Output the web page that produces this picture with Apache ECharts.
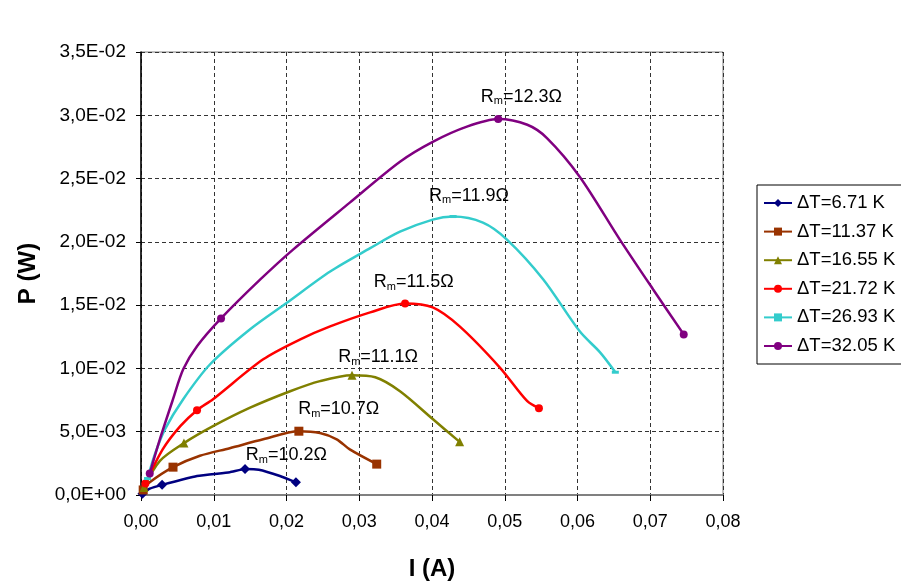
<!DOCTYPE html>
<html>
<head>
<meta charset="utf-8">
<script src="https://cdn.jsdelivr.net/npm/echarts@6/dist/echarts.min.js"></script>
<style>
html,body{margin:0;padding:0;background:#fff;}
#c{width:901px;height:586px;}
</style>
</head>
<body>
<div id="c"></div>
<script>
// ---- Data ----
const seriesNames = ['ΔT=6.71 K', 'ΔT=11.37 K', 'ΔT=16.55 K', 'ΔT=21.72 K', 'ΔT=26.93 K', 'ΔT=32.05 K'];

const I_671 = [0.0002, 0.0012, 0.0029, 0.0077, 0.0122, 0.0143, 0.0162, 0.0191, 0.0213];
const P_671 = [0.0001, 0.0005, 0.0008, 0.0015, 0.0018, 0.00205, 0.0020, 0.0015, 0.0010];
const M_671 = [0, 2, 5, 8];

const I_1137 = [0.0003, 0.0012, 0.0044, 0.0081, 0.0122, 0.0168, 0.0217, 0.0246, 0.0269, 0.0287, 0.0324];
const P_1137 = [0.0004, 0.0010, 0.0022, 0.0031, 0.0037, 0.0044, 0.00504, 0.0049, 0.0044, 0.0036, 0.00244];
const M_1137 = [0, 2, 6, 10];

const I_1655 = [0.0004, 0.0026, 0.0059, 0.0099, 0.0150, 0.0205, 0.0246, 0.0290, 0.0322, 0.0356, 0.0401, 0.0438];
const P_1655 = [0.0006, 0.0027, 0.0041, 0.00544, 0.0069, 0.0082, 0.0090, 0.00946, 0.0093, 0.0082, 0.0060, 0.0042];
const M_1655 = [0, 2, 7, 11];

const I_2172 = [0.0006, 0.0030, 0.0054, 0.0077, 0.0099, 0.0168, 0.0219, 0.0260, 0.0315, 0.0363, 0.0401, 0.0438, 0.0493, 0.0531, 0.0547];
const P_2172 = [0.0009, 0.00362, 0.00544, 0.0067, 0.00757, 0.01072, 0.0123, 0.01332, 0.01443, 0.01513, 0.01482, 0.01332, 0.01009, 0.00741, 0.00686];
const M_2172 = [0, 3, 9, 14];

const I_2693 = [0.0009, 0.0019, 0.0033, 0.0058, 0.0095, 0.0150, 0.0201, 0.0260, 0.0315, 0.0356, 0.0401, 0.0429, 0.0470, 0.0503, 0.0553, 0.0603, 0.0631, 0.0652];
const P_2693 = [0.0013, 0.0032, 0.0052, 0.00757, 0.01033, 0.0131, 0.01521, 0.01766, 0.0195, 0.0208, 0.02176, 0.0220, 0.02152, 0.02018, 0.01703, 0.01293, 0.01127, 0.0097];
const M_2693 = [0, 11, 17];

const I_3205 = [0.0012, 0.0026, 0.0044, 0.0058, 0.0077, 0.0110, 0.0164, 0.0209, 0.0287, 0.0356, 0.0401, 0.0448, 0.0491, 0.0531, 0.0558, 0.0603, 0.0658, 0.0704, 0.0746];
const P_3205 = [0.0017, 0.00441, 0.00757, 0.00993, 0.01175, 0.01395, 0.01703, 0.01939, 0.0231, 0.02633, 0.0279, 0.0291, 0.0297, 0.02925, 0.0282, 0.02515, 0.0202, 0.01624, 0.01269];
const M_3205 = [0, 5, 12, 18];

// annotations (Rm labels), anchored at data coordinates
const annTexts = ['10.2Ω', '10.7Ω', '11.1Ω', '11.5Ω', '11.9Ω', '12.3Ω'];
const annI = [0.0144, 0.0216, 0.0271, 0.0320, 0.0396, 0.0467];
const annP = [0.00315, 0.00678, 0.01088, 0.01679, 0.02365, 0.03145];

const xTickLabels = ['0,00', '0,01', '0,02', '0,03', '0,04', '0,05', '0,06', '0,07', '0,08'];
const yTickLabels = ['0,0E+00', '5,0E-03', '1,0E-02', '1,5E-02', '2,0E-02', '2,5E-02', '3,0E-02', '3,5E-02'];

// ---- Styles ----
const colors = ['#000080', '#993300', '#808000', '#FF0000', '#33CCCC', '#800080'];
const symbols = ['diamond', 'rect', 'triangle', 'circle', 'rect', 'circle'];
const symbolSizes = [10, 9, 9, 8, [7, 3], 8];
const smoothness = [0.15, 0.3, 0.3, 0.3, 0.3, 0.3];
const FONT = '"Liberation Sans", Arial, sans-serif';

const rawSeries = [
  [I_671, P_671, M_671],
  [I_1137, P_1137, M_1137],
  [I_1655, P_1655, M_1655],
  [I_2172, P_2172, M_2172],
  [I_2693, P_2693, M_2693],
  [I_3205, P_3205, M_3205]
];

const series = rawSeries.map(([xs, ys, marks], k) => ({
  name: seriesNames[k],
  type: 'line',
  smooth: smoothness[k],
  showSymbol: true,
  symbol: symbols[k],
  symbolSize: symbolSizes[k],
  color: colors[k],
  lineStyle: { width: 2.5, color: colors[k] },
  itemStyle: { color: colors[k] },
  emphasis: { disabled: true },
  z: 3 + k,
  data: xs.map((x, i) => marks.includes(i) ? { value: [x, ys[i]] } : { value: [x, ys[i]], symbol: 'none' })
}));

series.push({
  type: 'scatter',
  silent: true,
  symbolSize: 0,
  z: 10,
  itemStyle: { color: '#000', opacity: 1 },
  data: annI.map((x, i) => [x, annP[i], annTexts[i]]),
  label: {
    show: true,
    position: 'right',
    distance: 0,
    color: '#000',
    opacity: 1,
    formatter: p => '{r|R}{s|m}{r|=' + p.value[2] + '}',
    rich: {
      r: { fontFamily: FONT, fontSize: 18, color: '#000' },
      s: { fontFamily: FONT, fontSize: 11, color: '#000', padding: [9, 0, 0, 0] }
    }
  }
});

const chart = echarts.init(document.getElementById('c'), null, { renderer: 'canvas' });
chart.setOption({
  animation: false,
  backgroundColor: '#fff',
  textStyle: { fontFamily: FONT },
  grid: { left: 141, right: 178, top: 52, bottom: 90, containLabel: false,
          show: true, borderColor: '#808080', borderWidth: 1, backgroundColor: 'transparent' },
  legend: {
    orient: 'vertical',
    left: 757,
    top: 185,
    data: seriesNames,
    itemWidth: 28,
    itemHeight: 10,
    itemGap: 8.6,
    padding: [8, 14, 8, 6],
    borderColor: '#000',
    borderWidth: 1,
    backgroundColor: '#fff',
    textStyle: { fontFamily: FONT, fontSize: 18.5, color: '#000', lineHeight: 20 }
  },
  xAxis: {
    type: 'value',
    min: 0,
    max: 0.08,
    interval: 0.01,
    name: 'I (A)',
    nameLocation: 'middle',
    nameGap: 62,
    nameTextStyle: { fontFamily: FONT, fontSize: 24, fontWeight: 'bold', color: '#000' },
    axisLine: { show: true, onZero: false, lineStyle: { color: '#808080', width: 2 } },
    axisTick: { show: true, length: 6, lineStyle: { color: '#000' } },
    axisLabel: {
      margin: 18,
      fontFamily: FONT,
      fontSize: 18,
      color: '#000',
      formatter: v => xTickLabels[Math.round(v / 0.01)]
    },
    splitLine: { show: true, lineStyle: { type: [4, 3], color: '#333', width: 1 } }
  },
  yAxis: {
    type: 'value',
    min: 0,
    max: 0.035,
    interval: 0.005,
    name: 'P (W)',
    nameLocation: 'middle',
    nameGap: 101,
    nameRotate: 90,
    nameTextStyle: { fontFamily: FONT, fontSize: 24, fontWeight: 'bold', color: '#000' },
    axisLine: { show: true, onZero: false, lineStyle: { color: '#000', width: 1.5 } },
    axisTick: { show: true, length: 5, lineStyle: { color: '#000' } },
    axisLabel: {
      margin: 15,
      fontFamily: FONT,
      fontSize: 19,
      color: '#000',
      formatter: v => yTickLabels[Math.round(v / 0.005)]
    },
    splitLine: { show: true, lineStyle: { type: [4, 3], color: '#333', width: 1 } }
  },
  series: series
});
</script>
</body>
</html>
